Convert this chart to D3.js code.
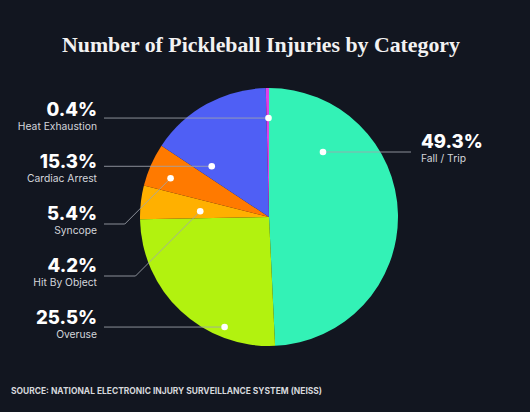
<!DOCTYPE html>
<html>
<head>
<meta charset="utf-8">
<script src="https://cdn.jsdelivr.net/npm/d3@7"></script>
<style>
  html, body { margin: 0; padding: 0; background: #121620; }
  svg { display: block; }
</style>
</head>
<body>
<svg width="530" height="412"></svg>
<script>
// data
var categories = ["Fall / Trip", "Overuse", "Hit By Object", "Syncope", "Cardiac Arrest", "Heat Exhaustion"];
var shares = [49.3, 25.5, 4.2, 5.4, 15.3, 0.4];
var pctLabels = ["49.3%", "25.5%", "4.2%", "5.4%", "15.3%", "0.4%"];
var colors = ["#33f2b6", "#b2f20f", "#ffb000", "#ff7a00", "#4f5ff5", "#e040e8"];

// where the white dot sits inside each slice (share of angle span, share of radius)
var dotAt = [[0.224, 0.655], [0.269, 0.92], [0.38, 0.535], [0.38, 0.82], [0.145, 0.593], [0.8, 0.767]];
// left-hand label slots, top to bottom
var leftOrder = ["Heat Exhaustion", "Cardiac Arrest", "Syncope", "Hit By Object", "Overuse"];

var svg = d3.select("svg"),
    width = +svg.attr("width"),
    height = +svg.attr("height");

var cx = 269, cy = 217, radius = 129;

svg.append("rect")
    .attr("width", width)
    .attr("height", height)
    .attr("fill", "#121620");

var title = svg.append("text")
    .attr("x", 261)
    .attr("y", 51.5)
    .attr("text-anchor", "middle")
    .attr("fill", "#f2f2f2")
    .style("font-family", "'Liberation Serif', serif")
    .style("font-weight", "bold")
    .style("font-size", "24px")
    .text("Number of Pickleball Injuries by Category");
var tw = title.node().getComputedTextLength();
title.style("font-size", (24 * 398 / tw) + "px");

var pie = d3.pie().sort(null).value(function(d) { return d; });
var arcs = pie(shares);

var arc = d3.arc().innerRadius(0).outerRadius(radius);

var g = svg.append("g").attr("transform", "translate(" + cx + "," + cy + ")");

g.selectAll("path")
    .data(arcs)
    .enter()
    .append("path")
    .attr("d", arc)
    .attr("fill", function(d, i) { return colors[i]; });

// dot positions
var dots = arcs.map(function(d, i) {
  var a = d.startAngle + (d.endAngle - d.startAngle) * dotAt[i][0];
  var r = radius * dotAt[i][1];
  return { x: cx + r * Math.sin(a), y: cy - r * Math.cos(a) };
});

var labels = svg.append("g");
var leaders = svg.append("g")
    .attr("fill", "none")
    .attr("stroke", "#a0a4ad")
    .attr("stroke-opacity", 0.85)
    .attr("stroke-width", 1);

var labelRight = 97, lineStart = 104, slotTop = 116, slotStep = 52;

leftOrder.forEach(function(name, k) {
  var i = categories.indexOf(name);
  var base = slotTop + k * slotStep;
  var p = dots[i];
  var lineY, path;
  if (Math.abs(p.y - base) < 8) {
    lineY = p.y;
    path = [[lineStart, lineY], [p.x, p.y]];
  } else {
    lineY = base + 4;
    var ex = p.x - (lineY - p.y);
    path = [[lineStart, lineY], [ex, lineY], [p.x, p.y]];
  }
  leaders.append("path").attr("d", d3.line()(path));

  labels.append("text")
      .attr("x", labelRight)
      .attr("y", base)
      .attr("text-anchor", "end")
      .attr("fill", "#ffffff")
      .style("font-family", "Inter, sans-serif")
      .style("font-weight", "800")
      .style("font-size", "18.5px")
      .text(pctLabels[i]);
  labels.append("text")
      .attr("x", labelRight)
      .attr("y", base + 14)
      .attr("text-anchor", "end")
      .attr("fill", "#d2d5db")
      .style("font-family", "Inter, sans-serif")
      .style("font-size", "10.3px")
      .text(name);
});

// right label for the biggest slice
var f = dots[0];
leaders.append("path").attr("d", d3.line()([[f.x, f.y], [411, f.y]]));
labels.append("text")
    .attr("x", 421)
    .attr("y", f.y - 4)
    .attr("fill", "#ffffff")
    .style("font-family", "Inter, sans-serif")
    .style("font-weight", "800")
    .style("font-size", "18.5px")
    .text(pctLabels[0]);
labels.append("text")
    .attr("x", 421)
    .attr("y", f.y + 10)
    .attr("fill", "#d2d5db")
    .style("font-family", "Inter, sans-serif")
    .style("font-size", "10.3px")
    .text(categories[0]);

svg.append("g").selectAll("circle")
    .data(dots)
    .enter()
    .append("circle")
    .attr("cx", function(d) { return d.x; })
    .attr("cy", function(d) { return d.y; })
    .attr("r", 3.3)
    .attr("fill", "#ffffff");

svg.append("text")
    .attr("x", 11)
    .attr("y", 393.5)
    .attr("fill", "#d6d8dc")
    .attr("textLength", 311)
    .attr("lengthAdjust", "spacingAndGlyphs")
    .style("font-family", "Inter, sans-serif")
    .style("font-weight", "bold")
    .style("font-size", "9px")
    .text("SOURCE: NATIONAL ELECTRONIC INJURY SURVEILLANCE SYSTEM (NEISS)");
</script>
</body>
</html>
